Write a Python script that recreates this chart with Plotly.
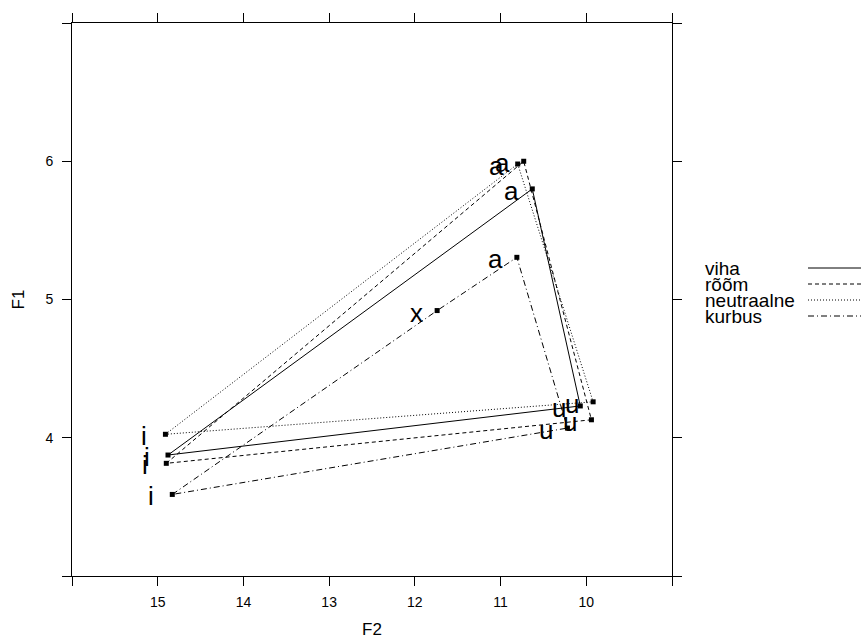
import plotly.graph_objects as go

# ---- data ----
emotions = ["viha", "rõõm", "neutraalne", "kurbus"]
viha_vowels = ["i", "a", "u"]
viha_F2 = [14.88, 10.63, 10.07]
viha_F1 = [3.875, 5.80, 4.23]

room_vowels = ["i", "a", "u"]
room_F2 = [14.90, 10.73, 9.94]
room_F1 = [3.815, 6.00, 4.13]

neutraalne_vowels = ["i", "a", "u"]
neutraalne_F2 = [14.91, 10.80, 9.92]
neutraalne_F1 = [4.025, 5.98, 4.26]

kurbus_vowels = ["i", "x", "a", "u"]
kurbus_F2 = [14.83, 11.74, 10.81, 10.22]
kurbus_F1 = [3.59, 4.92, 5.305, 4.07]

x_ticks = [16, 15, 14, 13, 12, 11, 10, 9]
x_ticklabels = ["", "15", "14", "13", "12", "11", "10", ""]
y_ticks = [3, 4, 5, 6, 7]
y_ticklabels = ["", "4", "5", "6", ""]

series = [
    ("viha", viha_vowels, viha_F2, viha_F1, "solid"),
    ("rõõm", room_vowels, room_F2, room_F1, "4px,3px"),
    ("neutraalne", neutraalne_vowels, neutraalne_F2, neutraalne_F1, "1px,2px"),
    ("kurbus", kurbus_vowels, kurbus_F2, kurbus_F1, "6px,3px,1px,3px"),
]

FONT = "Liberation Sans, Arial, sans-serif"
fig = go.Figure()

annotations = []
for name, vow, f2, f1, dash in series:
    # closed polygon
    fig.add_trace(go.Scatter(
        x=list(f2) + [f2[0]], y=list(f1) + [f1[0]],
        mode="lines", line=dict(color="black", width=1, dash=dash),
        showlegend=False, hoverinfo="skip"))
    fig.add_trace(go.Scatter(
        x=f2, y=f1, mode="markers",
        marker=dict(symbol="square", size=5, color="black"),
        showlegend=False, name=name))
    for v, xx, yy in zip(vow, f2, f1):
        annotations.append(dict(
            x=xx, y=yy, xref="x", yref="y", text=v, showarrow=False,
            xanchor="center", yanchor="middle", xshift=-21, yshift=-2,
            font=dict(family=FONT, size=26, color="black")))

PL, PR, PT, PB = 72, 672, 23, 576
W, H = 863, 639

def px_x(px):
    return (px - PL) / (PR - PL)

def px_y(py):
    return (PB - py) / (PB - PT)

shapes = []
legend_y0 = 268
legend_dy = 16
for k, (name, vow, f2, f1, dash) in enumerate(series):
    yy = legend_y0 + k * legend_dy
    annotations.append(dict(
        x=px_x(703), y=px_y(yy), xref="paper", yref="paper",
        text=name, showarrow=False, xanchor="left", yanchor="middle",
        font=dict(family=FONT, size=19, color="black")))
    shapes.append(dict(
        type="line", xref="paper", yref="paper",
        x0=px_x(808), x1=px_x(861), y0=px_y(yy), y1=px_y(yy),
        line=dict(color="black", width=1, dash=dash)))

axis_common = dict(
    showgrid=False, zeroline=False, showline=True, linecolor="black",
    linewidth=1, mirror="ticks", ticks="outside", ticklen=9,
    tickcolor="black", tickwidth=1, automargin=False,
    tickfont=dict(family=FONT, size=14, color="black"),
)

fig.update_layout(
    width=W, height=H,
    margin=dict(l=PL, r=W - PR, t=PT, b=H - PB),
    paper_bgcolor="white", plot_bgcolor="white",
    xaxis=dict(range=[16, 9], tickvals=x_ticks, ticktext=x_ticklabels,
               ticklabelstandoff=4,
               title=dict(text="F2", standoff=20,
                          font=dict(family=FONT, size=17, color="black")),
               **axis_common),
    yaxis=dict(range=[3, 7], tickvals=y_ticks, ticktext=y_ticklabels,
               ticklabelstandoff=6,
               title=dict(text="F1", standoff=16,
                          font=dict(family=FONT, size=17, color="black")),
               **axis_common),
    shapes=shapes, annotations=annotations,
)

fig.write_html("out.html", config={"displayModeBar": False},
               post_script="document.body.style.margin='0';document.body.style.overflow='hidden';")
